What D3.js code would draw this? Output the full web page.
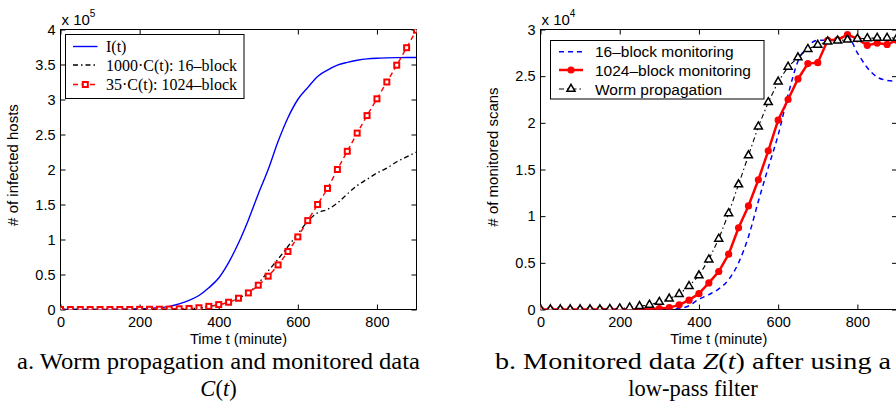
<!DOCTYPE html>
<html><head><meta charset="utf-8">
<script src="https://cdn.jsdelivr.net/npm/d3@7"></script>
<style>body{margin:0;background:#fff}svg{display:block}</style>
</head><body><svg id="c" width="896" height="411"></svg>
<script>
// ---- data ----
const minutes = [0,25,50,75,100,125,150,175,200,225,250,275,300,325,350,375,400,425,450,475,500,525,550,575,600,625,650,675,700,725,750,775,800,825,850,875,900];
// Left panel (x 10^5)
const infectedI = [0,0,0,0,0.001,0.002,0.004,0.006,0.01,0.016,0.026,0.045,0.08,0.13,0.2,0.31,0.45,0.67,0.95,1.28,1.65,2.0,2.4,2.74,3.0,3.17,3.33,3.42,3.49,3.53,3.56,3.58,3.59,3.595,3.598,3.6,3.6];
const block16Left = [0,0,0,0,0,0,0,0,0.001,0.002,0.003,0.005,0.008,0.012,0.02,0.04,0.07,0.1,0.16,0.24,0.37,0.55,0.72,0.9,1.08,1.26,1.38,1.43,1.52,1.65,1.77,1.86,1.95,2.02,2.11,2.18,2.25];
const block1024Left = [0,0,0,0,0,0,0,0,0.002,0.003,0.004,0.006,0.01,0.015,0.025,0.045,0.07,0.104,0.161,0.237,0.347,0.476,0.637,0.829,1.037,1.27,1.5,1.73,2.0,2.26,2.52,2.77,3.01,3.25,3.49,3.74,3.99];
// Right panel (x 10^4)
const block16Right = [0,0,0,0,0,0,0,0,0,0,0,0,0,0.003,0.01,0.04,0.11,0.16,0.22,0.32,0.5,0.78,1.16,1.52,1.87,2.3,2.66,2.82,2.885,2.885,2.9,2.93,2.75,2.59,2.49,2.455,2.445];
const block1024Right = [0,0,0,0,0,0,0,0,0,0,0,0.005,0.01,0.02,0.05,0.1,0.17,0.285,0.407,0.593,0.875,1.11,1.39,1.7,2.03,2.25,2.47,2.635,2.645,2.885,2.89,2.946,2.9,2.83,2.855,2.84,2.885];
const wormRight = [0,0,0,0,0,0,0,0.005,0.01,0.02,0.035,0.05,0.08,0.115,0.165,0.25,0.365,0.535,0.757,1.03,1.34,1.65,1.96,2.22,2.44,2.6,2.7,2.79,2.835,2.87,2.88,2.89,2.9,2.905,2.91,2.91,2.91];
const xTicks = [0,200,400,600,800];
const yTicksLeft = [0,0.5,1,1.5,2,2.5,3,3.5,4];
const yTicksRight = [0,0.5,1,1.5,2,2.5,3];
const legendLeft = ["I(t)","1000\u00B7C(t): 16\u2013block","35\u00B7C(t): 1024\u2013block"];
const legendRight = ["16\u2013block monitoring","1024\u2013block monitoring","Worm propagation"];

const svg = d3.select("#c");
svg.append("rect").attr("width",896).attr("height",411).attr("fill","#fff");
const SANS = "'Liberation Sans', Arial, sans-serif";
const SERIF = "'Liberation Serif', 'Times New Roman', serif";

function panel(id, x, y, yTicks, exp, ylabel, ylabelY) {
  const [x0,x1] = x.range(), [y0,y1] = y.range();
  const g = svg.append("g");
  svg.append("clipPath").attr("id", id).append("rect")
    .attr("x",x0).attr("y",y1).attr("width",x1-x0).attr("height",y0-y1);
  const styleAxis = a => { a.select(".domain").remove();
    a.selectAll("line").attr("stroke","#000");
    a.selectAll("text").attr("font-family",SANS).attr("font-size",14.5).attr("fill","#000"); };
  g.append("g").attr("transform",`translate(0,${y0})`)
    .call(d3.axisBottom(x).tickValues(xTicks).tickSize(-5).tickPadding(7).tickFormat(d=>String(d))).call(styleAxis);
  g.append("g").attr("transform",`translate(0,${y1})`)
    .call(d3.axisTop(x).tickValues(xTicks).tickSize(-5).tickFormat(()=>"")).call(styleAxis);
  g.append("g").attr("transform",`translate(${x0},0)`)
    .call(d3.axisLeft(y).tickValues(yTicks).tickSize(-5).tickPadding(5).tickFormat(d=>String(d))).call(styleAxis);
  g.append("g").attr("transform",`translate(${x1},0)`)
    .call(d3.axisRight(y).tickValues(yTicks).tickSize(-5).tickFormat(()=>"")).call(styleAxis);
  g.append("rect").attr("x",x0).attr("y",y1).attr("width",x1-x0).attr("height",y0-y1)
    .attr("fill","none").attr("stroke","#000").attr("stroke-width",1);
  const t = g.append("text").attr("x",x0+1).attr("y",25).attr("font-family",SANS).attr("font-size",15);
  t.append("tspan").text("x 10");
  t.append("tspan").attr("dy",-8).attr("font-size",10).text(exp);
  g.append("text").attr("transform",`translate(${(x0+x1)/2},344)`).attr("text-anchor","middle")
    .attr("font-family",SANS).attr("font-size",14.5).text("Time t (minute)");
  g.append("text").attr("transform",`translate(${x0-43},${ylabelY}) rotate(-90)`).attr("text-anchor","middle")
    .attr("font-family",SANS).attr("font-size",15).text(ylabel);
  return g.append("g").attr("clip-path",`url(#${id})`);
}

// ----- Left panel -----
const xL = d3.scaleLinear([0,900],[60.5,416.5]);
const yL = d3.scaleLinear([0,4],[309.5,29.5]);
const pL = panel("clipL", xL, yL, yTicksLeft, "5", "# of infected hosts", 165);
const lineL = arr => d3.line().x((d,i)=>xL(minutes[i])).y(d=>yL(d)).curve(d3.curveMonotoneX)(arr);
pL.append("path").attr("d",lineL(infectedI)).attr("fill","none").attr("stroke","#0000ff").attr("stroke-width",1.4);
pL.append("path").attr("d",lineL(block16Left)).attr("fill","none").attr("stroke","#000").attr("stroke-width",1.3).attr("stroke-dasharray","5,3,1.5,3");
pL.append("path").attr("d",lineL(block1024Left)).attr("fill","none").attr("stroke","#ff0000").attr("stroke-width",1.4).attr("stroke-dasharray","5,3.5");
pL.selectAll(".sq").data(block1024Left).join("rect")
  .attr("x",(d,i)=>xL(minutes[i])-2.5).attr("y",d=>yL(d)-2.5).attr("width",5).attr("height",5)
  .attr("fill","#fff").attr("stroke","#ff0000").attr("stroke-width",2);

// left legend
const lgL = svg.append("g");
lgL.append("rect").attr("x",65.5).attr("y",34.5).attr("width",178.5).attr("height",64).attr("fill","#fff").attr("stroke","#000");
const rowsL = [46.5,65,84.5];
const stylesL = [{c:"#0000ff",dash:null},{c:"#000",dash:"5,3,1.5,3"},{c:"#ff0000",dash:"5,3.5"}];
legendLeft.forEach((txt,i)=>{
  lgL.append("line").attr("x1",73).attr("x2",97.5).attr("y1",rowsL[i]).attr("y2",rowsL[i])
    .attr("stroke",stylesL[i].c).attr("stroke-width",1.4).attr("stroke-dasharray",stylesL[i].dash);
  if(i===2) lgL.append("rect").attr("x",82.8).attr("y",rowsL[i]-2.5).attr("width",5).attr("height",5)
    .attr("fill","#fff").attr("stroke","#ff0000").attr("stroke-width",2);
  lgL.append("text").attr("x",106).attr("y",rowsL[i]+5.5).attr("font-family",SERIF).attr("font-size",16).text(txt);
});

// ----- Right panel -----
const xR = d3.scaleLinear([0,900],[540.5,897]);
const yR = d3.scaleLinear([0,3],[309.5,29.5]);
const pR = panel("clipR", xR, yR, yTicksRight, "4", "# of monitored scans", 157);
const lineR = arr => d3.line().x((d,i)=>xR(minutes[i])).y(d=>yR(d)).curve(d3.curveMonotoneX)(arr);
const lineRl = arr => d3.line().x((d,i)=>xR(minutes[i])).y(d=>yR(d))(arr);
pR.append("path").attr("d",lineR(block16Right)).attr("fill","none").attr("stroke","#0000ff").attr("stroke-width",1.5).attr("stroke-dasharray","5,4");
pR.append("path").attr("d",lineRl(block1024Right)).attr("fill","none").attr("stroke","#ff0000").attr("stroke-width",2.5);
pR.selectAll(".ci").data(block1024Right).join("circle")
  .attr("cx",(d,i)=>xR(minutes[i])).attr("cy",d=>yR(d)).attr("r",3.6).attr("fill","#ff0000");
pR.append("path").attr("d",lineRl(wormRight)).attr("fill","none").attr("stroke","#000").attr("stroke-width",1.1).attr("stroke-dasharray","5,3,1.5,3");
const tri = d3.symbol().type(d3.symbolTriangle).size(28);
pR.selectAll(".tr").data(wormRight).join("path")
  .attr("d",tri).attr("transform",(d,i)=>`translate(${xR(minutes[i])},${yR(d)})`)
  .attr("fill","#fff").attr("stroke","#000").attr("stroke-width",1.5);

// right legend
const lgR = svg.append("g");
lgR.append("rect").attr("x",550.5).attr("y",40.5).attr("width",213.5).attr("height",58.5).attr("fill","#fff").attr("stroke","#000");
const rowsR = [51.7,70,89];
legendRight.forEach((txt,i)=>{
  const ln = lgR.append("line").attr("x1",559).attr("x2",583).attr("y1",rowsR[i]).attr("y2",rowsR[i]);
  if(i===0) ln.attr("stroke","#0000ff").attr("stroke-width",1.5).attr("stroke-dasharray","5,4");
  if(i===1){ ln.attr("stroke","#ff0000").attr("stroke-width",2.5);
    lgR.append("circle").attr("cx",571).attr("cy",rowsR[i]).attr("r",3.6).attr("fill","#ff0000"); }
  if(i===2){ ln.attr("stroke","#000").attr("stroke-width",1.1).attr("stroke-dasharray","5,3,1.5,3");
    lgR.append("path").attr("d",tri).attr("transform",`translate(571,${rowsR[i]})`).attr("fill","#fff").attr("stroke","#000").attr("stroke-width",1.5); }
  lgR.append("text").attr("x",595).attr("y",rowsR[i]+5.5).attr("font-family",SANS).attr("font-size",15.5).text(txt);
});

// ----- captions -----
const cap = (x, y, parts, len) => {
  const t = svg.append("text").attr("x",x).attr("y",y).attr("text-anchor","middle")
    .attr("font-family",SERIF).attr("font-size",22.5).attr("fill","#000");
  parts.forEach(p => t.append("tspan").attr("font-style",p[1]?"italic":null).text(p[0]));
  if(len) t.attr("textLength",len).attr("lengthAdjust","spacingAndGlyphs");
};
cap(218.5, 369, [["a. Worm propagation and monitored data",0]], 403);
cap(218.5, 396, [["C",1],["(",0],["t",1],[")",0]]);
cap(693, 369, [["b. Monitored data ",0],["Z",1],["(",0],["t",1],[")",0],[" after using a",0]], 396);
cap(693, 396, [["low-pass filter",0]]);
</script></body></html>
